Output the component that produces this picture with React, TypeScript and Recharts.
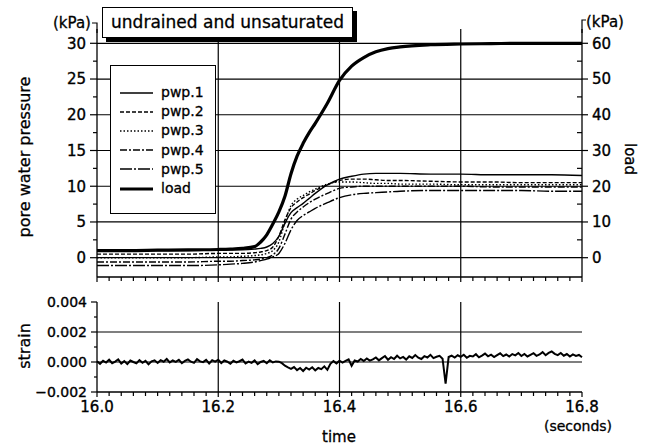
import React from "react";
import { LineChart, Line, XAxis, YAxis, ReferenceLine, Legend } from "recharts";

// sample times (s) for the pore pressure / load records
const TIME = [
  16.0, 16.05, 16.1, 16.15, 16.2, 16.22, 16.24, 16.26, 16.27, 16.28, 16.29, 16.3, 16.31, 16.32, 16.33,
  16.34, 16.35, 16.36, 16.38, 16.4, 16.42, 16.44, 16.46, 16.48, 16.5, 16.55, 16.6, 16.65, 16.7, 16.75, 16.8,
];

// load (kPa, right axis)
const LOAD = [
  2.0, 2.0, 2.1, 2.2, 2.3, 2.4, 2.6, 3.1, 4.4, 6.4, 9.4, 12.8, 17.2, 23.5, 28.4,
  32.0, 35.0, 37.6, 43.2, 49.6, 53.6, 56.0, 57.6, 58.5, 59.0, 59.6, 59.8, 59.9, 60.0, 60.0, 60.0,
];

// pore water pressure (kPa, left axis)
const PWP_1 = [
  1.0, 1.0, 1.0, 1.0, 1.1, 1.1, 1.1, 1.2, 1.3, 1.5, 2.0, 3.0, 4.8, 6.3, 7.0,
  7.6, 8.3, 9.0, 10.2, 11.0, 11.4, 11.7, 11.8, 11.8, 11.8, 11.7, 11.7, 11.6, 11.6, 11.6, 11.5,
];
const PWP_2 = [
  0.5, 0.5, 0.5, 0.5, 0.6, 0.6, 0.6, 0.7, 0.8, 1.0, 1.5, 3.0, 5.3, 7.0, 7.8,
  8.4, 8.9, 9.4, 10.2, 10.8, 11.0, 11.0, 10.9, 10.8, 10.8, 10.7, 10.6, 10.6, 10.5, 10.5, 10.5,
];
const PWP_3 = [
  0.0, 0.0, 0.0, 0.0, 0.1, 0.1, 0.2, 0.3, 0.4, 0.6, 1.0, 2.2, 5.0, 7.3, 8.2,
  8.7, 9.2, 9.6, 10.3, 10.6, 10.6, 10.5, 10.4, 10.4, 10.3, 10.3, 10.2, 10.2, 10.2, 10.2, 10.2,
];
const PWP_4 = [
  -0.6, -0.6, -0.6, -0.6, -0.5, -0.5, -0.4, -0.3, -0.2, 0.0, 0.4, 1.3, 3.3, 5.4, 6.4,
  7.1, 7.7, 8.2, 9.0, 9.7, 9.9, 10.0, 10.0, 10.0, 10.0, 10.0, 10.0, 9.9, 9.9, 9.9, 9.9,
];
const PWP_5 = [
  -1.1, -1.1, -1.1, -1.1, -1.0, -0.9, -0.8, -0.6, -0.4, -0.2, 0.1, 0.6, 2.0, 3.9, 5.2,
  5.9, 6.4, 6.9, 7.7, 8.4, 8.8, 9.0, 9.1, 9.2, 9.3, 9.4, 9.4, 9.4, 9.4, 9.3, 9.3,
];

// strain record, x1e-4, sampled every 5 ms from 16.000 s
const STRAIN_T0 = 16.0;
const STRAIN_DT = 0.005;
const STRAIN_E4 = [
  0.5, -1.2, 0.8, -0.4, 1.5, -0.8, 0.3, 1.8, -1.0, 0.6, -1.4, 1.0, 0.0, -0.9, 1.3, -0.5, 0.8, -1.6, 0.4, 1.1,
  -0.6, 1.2, 0.2, 2.0, -0.3, 1.0, 0.1, 1.5, -0.8, 0.7, 1.7, 0.2, -0.6, 1.9, 0.4, -0.1, 1.4, -1.0, 1.2, 0.3,
  1.5, -0.7, 1.0, 0.2, -1.2, 0.8, -0.3, 0.5, 1.6, -1.0, 0.3, -0.6, 1.0, -1.4, 0.0, 0.7, -0.8, 1.2, -0.3, 0.4,
  0.2, -0.8, -2.5, -3.6, -4.6, -3.4, -5.4, -4.0, -6.0, -3.8, -5.0, -3.5, -5.6, -4.0, -4.8, -2.9, -5.2, -1.2, 0.6, -0.9,
  0.9, -0.4, 0.8, 1.8, -2.5, 1.0, 0.3, 2.0, 0.7, 2.4, 0.9, 1.7, 3.0, 1.1, 2.6, 4.0, 1.5, 3.2, 2.0, 4.2,
  2.4, 3.4, 1.6, 3.8, 2.7, 4.6, 2.9, 2.0, 3.9, 3.0, 4.8, 2.6, 3.5, 4.1, 2.2, -14.5, 3.3, 4.2, 3.0, 4.5,
  3.4, 4.8, 2.8, 4.1, 3.7, 5.2, 3.1, 4.3, 5.6, 3.8, 4.9, 3.3, 4.6, 5.8, 3.9, 5.0, 3.6, 5.3, 4.4, 6.0,
  4.0, 5.4, 3.7, 4.8, 5.9, 4.1, 5.0, 6.6, 4.5, 6.1, 7.0, 5.4, 4.6, 6.0, 4.2, 5.3, 3.6, 5.1, 4.1, 4.7, 3.2,
];

const TIME_TICKS = [
  16.0, 16.02, 16.04, 16.06, 16.08, 16.1, 16.12, 16.14, 16.16, 16.18,
  16.2, 16.22, 16.24, 16.26, 16.28, 16.3, 16.32, 16.34, 16.36, 16.38,
  16.4, 16.42, 16.44, 16.46, 16.48, 16.5, 16.52, 16.54, 16.56, 16.58,
  16.6, 16.62, 16.64, 16.66, 16.68, 16.7, 16.72, 16.74, 16.76, 16.78, 16.8,
];
const TIME_GRID = [16.2, 16.4, 16.6];
const PWP_TICKS = [0, 2.5, 5, 7.5, 10, 12.5, 15, 17.5, 20, 22.5, 25, 27.5, 30];
const PWP_GRID = [0, 5, 10, 15, 20, 25, 30];
const LOAD_TICKS = [0, 5, 10, 15, 20, 25, 30, 35, 40, 45, 50, 55, 60];
const STRAIN_TICKS = [-0.002, -0.001, 0, 0.001, 0.002, 0.003, 0.004];
const STRAIN_GRID = [0, 0.002];

const SERIES = [
  { key: "p1", name: "pwp.1", dash: undefined, width: 1.4 },
  { key: "p2", name: "pwp.2", dash: "4 2", width: 1.4 },
  { key: "p3", name: "pwp.3", dash: "1.5 2", width: 1.4 },
  { key: "p4", name: "pwp.4", dash: "7 2 2 2", width: 1.4 },
  { key: "p5", name: "pwp.5", dash: "12 2 2 2", width: 1.4 },
  { key: "load", name: "load", dash: undefined, width: 3.2 },
];

const FONT = '"DejaVu Sans", "Liberation Sans", sans-serif';
const INK = "#000";
// scanned print looks heavier than a plain Book face
const HEAVY = { stroke: INK, strokeWidth: 0.35 };

const near = (a: number, b: number) => Math.abs(a - b) < 1e-6;

function timeTick(showLabel: boolean) {
  return (props: any) => {
    const { x, y, payload } = props;
    const v = payload.value as number;
    const major = near(v * 5, Math.round(v * 5));
    return (
      <g>
        <line x1={x} x2={x} y1={y} y2={y + (major ? 5 : 4)} stroke={INK} strokeWidth={1.2} />
        {showLabel && major && (
          <text x={x} y={y + 20} textAnchor="middle" fontSize={15} fill={INK} {...HEAVY}>
            {v.toFixed(1)}
          </text>
        )}
      </g>
    );
  };
}

function pwpTick(props: any) {
  const { x, y, payload } = props;
  const v = payload.value as number;
  const major = near(v % 5, 0);
  return (
    <g>
      <line x1={x - (major ? 7 : 4)} x2={x} y1={y} y2={y} stroke={INK} strokeWidth={1.2} />
      {major && (
        <text x={x - 11} y={y} dy="0.36em" textAnchor="end" fontSize={15} fill={INK} {...HEAVY}>
          {v}
        </text>
      )}
    </g>
  );
}

function loadTick(props: any) {
  const { x, y, payload } = props;
  const v = payload.value as number;
  const major = near(v % 10, 0);
  return (
    <g>
      <line x1={major ? x : x - 5} x2={major ? x + 6 : x} y1={y} y2={y} stroke={INK} strokeWidth={1.2} />
      {major && (
        <text x={x + 10} y={y} dy="0.36em" textAnchor="start" fontSize={15} fill={INK} {...HEAVY}>
          {v}
        </text>
      )}
    </g>
  );
}

function strainTick(props: any) {
  const { x, y, payload } = props;
  const v = payload.value as number;
  const major = near(v * 500, Math.round(v * 500));
  const label = v < 0 ? "\u2212" + Math.abs(v).toFixed(3) : v.toFixed(3);
  return (
    <g>
      <line x1={x - (major ? 6 : 3)} x2={x} y1={y} y2={y} stroke={INK} strokeWidth={1.2} />
      {major && (
        <text x={x - 10} y={y} dy="0.36em" textAnchor="end" fontSize={14} fill={INK} {...HEAVY}>
          {label}
        </text>
      )}
    </g>
  );
}

function PwpLegend() {
  return (
    <div
      style={{
        width: 106,
        height: 149,
        boxSizing: "border-box",
        border: "1px solid #000",
        background: "#fff",
        paddingTop: 17,
        fontFamily: FONT,
      }}
    >
      {SERIES.map((s) => (
        <div key={s.key} style={{ display: "flex", alignItems: "center", height: 19.2 }}>
          <svg width={41} height={10} style={{ marginLeft: 9 }}>
            <line x1={0} x2={33} y1={5} y2={5} stroke={INK} strokeWidth={s.width} strokeDasharray={s.dash} />
          </svg>
          <span style={{ fontSize: 14, lineHeight: "19px", WebkitTextStroke: "0.3px #000" }}>{s.name}</span>
        </div>
      ))}
    </div>
  );
}

export default function App() {
  const topData = TIME.map((t, i) => ({
    t,
    p1: PWP_1[i],
    p2: PWP_2[i],
    p3: PWP_3[i],
    p4: PWP_4[i],
    p5: PWP_5[i],
    load: LOAD[i],
  }));
  const strainData = STRAIN_E4.map((v, i) => ({
    t: Math.round((STRAIN_T0 + i * STRAIN_DT) * 1000) / 1000,
    s: v / 10000,
  }));

  return (
    <div
      style={{
        position: "absolute",
        left: 0,
        top: 0,
        width: 646,
        height: 445,
        background: "#fff",
        fontFamily: FONT,
        color: INK,
        overflow: "hidden",
      }}
    >
      <div style={{ position: "absolute", left: 0, top: 0 }}>
        <LineChart width={646} height={290} data={topData} margin={{ top: 29, right: 0, bottom: 0, left: 0 }}>
          <XAxis
            dataKey="t"
            type="number"
            domain={[16, 16.8]}
            ticks={TIME_TICKS}
            interval={0}
            height={13}
            tickSize={0}
            tickMargin={0}
            tickLine={false}
            axisLine={{ stroke: INK, strokeWidth: 1.3 }}
            tick={timeTick(false)}
          />
          <YAxis
            yAxisId="p"
            orientation="left"
            width={97}
            domain={[-2.7, 32]}
            ticks={PWP_TICKS}
            interval={0}
            tickSize={0}
            tickMargin={0}
            tickLine={false}
            axisLine={{ stroke: INK, strokeWidth: 1.3 }}
            tick={pwpTick}
          />
          <YAxis
            yAxisId="l"
            orientation="right"
            width={64}
            domain={[-5.4, 64]}
            ticks={LOAD_TICKS}
            interval={0}
            tickSize={0}
            tickMargin={0}
            tickLine={false}
            axisLine={{ stroke: INK, strokeWidth: 1.3 }}
            tick={loadTick}
          />
          {PWP_GRID.map((v) => (
            <ReferenceLine key={"h" + v} yAxisId="p" y={v} stroke={INK} strokeWidth={1.2} />
          ))}
          {TIME_GRID.map((v) => (
            <ReferenceLine key={"v" + v} yAxisId="p" x={v} stroke={INK} strokeWidth={1.2} />
          ))}
          {SERIES.map((s) => (
            <Line
              key={s.key}
              yAxisId={s.key === "load" ? "l" : "p"}
              dataKey={s.key}
              name={s.name}
              type="monotone"
              stroke={INK}
              strokeWidth={s.width}
              strokeDasharray={s.dash}
              dot={false}
              activeDot={false}
              isAnimationActive={false}
            />
          ))}
          <Legend
            layout="vertical"
            align="center"
            verticalAlign="middle"
            content={() => <PwpLegend />}
            wrapperStyle={{ position: "absolute", left: 110, top: 65, width: 106, height: 149 }}
          />
        </LineChart>
      </div>

      <div style={{ position: "absolute", left: 0, top: 280 }}>
        <LineChart width={646} height={165} data={strainData} margin={{ top: 22, right: 64, bottom: 0, left: 0 }}>
          <XAxis
            dataKey="t"
            type="number"
            domain={[16, 16.8]}
            ticks={TIME_TICKS}
            interval={0}
            height={53}
            tickSize={0}
            tickMargin={0}
            tickLine={false}
            axisLine={{ stroke: INK, strokeWidth: 1.3 }}
            tick={timeTick(true)}
          />
          <YAxis
            yAxisId="s"
            width={97}
            domain={[-0.002, 0.004]}
            ticks={STRAIN_TICKS}
            interval={0}
            tickSize={0}
            tickMargin={0}
            tickLine={false}
            axisLine={{ stroke: INK, strokeWidth: 1.3 }}
            tick={strainTick}
          />
          {STRAIN_GRID.map((v) => (
            <ReferenceLine key={"h" + v} yAxisId="s" y={v} stroke={INK} strokeWidth={1.2} />
          ))}
          {TIME_GRID.map((v) => (
            <ReferenceLine key={"v" + v} yAxisId="s" x={v} stroke={INK} strokeWidth={1.2} />
          ))}
          <Line
            yAxisId="s"
            dataKey="s"
            name="strain"
            type="linear"
            stroke={INK}
            strokeWidth={2}
            dot={false}
            activeDot={false}
            isAnimationActive={false}
          />
        </LineChart>
      </div>

      {/* axis titles and units */}
      <svg
        width={646}
        height={445}
        style={{ position: "absolute", left: 0, top: 0, pointerEvents: "none" }}
        fontFamily={FONT}
        fill={INK}
        stroke={INK}
        strokeWidth={0.3}
      >
        <text x={24} y={157} fontSize={16} textAnchor="middle" dy="0.36em" transform="rotate(-90 24 157)">
          pore water pressure
        </text>
        <text x={72} y={28} fontSize={15} textAnchor="middle">(kPa)</text>
        <path d="M92 23 H97 V33" stroke={INK} strokeWidth={1.2} fill="none" />
        <text x={605} y={27} fontSize={15} textAnchor="middle">(kPa)</text>
        <path d="M582 33 V20 H586" stroke={INK} strokeWidth={1.2} fill="none" />
        <text x={630} y={159} fontSize={15} textAnchor="middle" dy="0.36em" transform="rotate(90 630 159)">
          load
        </text>
        <text x={24} y={346} fontSize={16} textAnchor="middle" dy="0.36em" transform="rotate(-90 24 346)">
          strain
        </text>
        <text x={339} y={442} fontSize={15} textAnchor="middle">time</text>
        <text x={578} y={431} fontSize={14} textAnchor="middle">(seconds)</text>
      </svg>

      <div
        style={{
          position: "absolute",
          left: 102,
          top: 7,
          width: 251,
          height: 31,
          boxSizing: "border-box",
          border: "1px solid #000",
          boxShadow: "4px 4px 0 #000",
          background: "#fff",
          fontSize: 17,
          lineHeight: "29px",
          textAlign: "center",
          WebkitTextStroke: "0.3px #000",
        }}
      >
        undrained and unsaturated
      </div>
    </div>
  );
}
